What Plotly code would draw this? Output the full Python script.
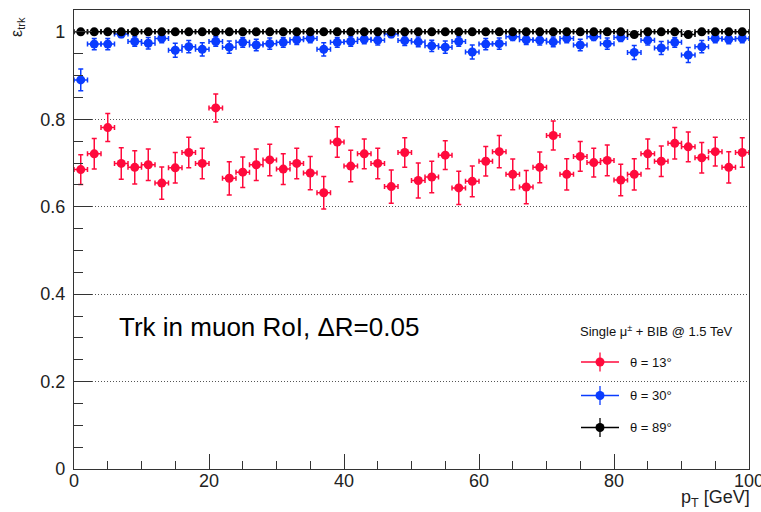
import plotly.graph_objects as go

# ---------------- data ----------------
pt = [1, 3, 5, 7, 9, 11, 13, 15, 17, 19, 21, 23, 25, 27, 29, 31, 33, 35, 37, 39,
      41, 43, 45, 47, 49, 51, 53, 55, 57, 59, 61, 63, 65, 67, 69, 71, 73, 75, 77, 79,
      81, 83, 85, 87, 89, 91, 93, 95, 97, 99]
BIN_HALF_WIDTH = 1.0

eff_13 = [0.685, 0.721, 0.781, 0.699, 0.690, 0.696, 0.654, 0.689, 0.724, 0.699,
          0.826, 0.665, 0.679, 0.696, 0.707, 0.686, 0.699, 0.677, 0.632, 0.748,
          0.693, 0.721, 0.699, 0.646, 0.724, 0.660, 0.668, 0.718, 0.643, 0.658,
          0.704, 0.726, 0.674, 0.645, 0.690, 0.763, 0.674, 0.715, 0.701, 0.706,
          0.661, 0.674, 0.721, 0.704, 0.745, 0.737, 0.712, 0.726, 0.690, 0.724]
err_13 = [0.034, 0.035, 0.032, 0.036, 0.038, 0.036, 0.037, 0.035, 0.035, 0.035,
          0.032, 0.038, 0.035, 0.036, 0.036, 0.035, 0.035, 0.038, 0.037, 0.035,
          0.036, 0.034, 0.035, 0.038, 0.034, 0.040, 0.036, 0.033, 0.038, 0.035,
          0.034, 0.037, 0.035, 0.038, 0.035, 0.033, 0.036, 0.034, 0.033, 0.035,
          0.036, 0.036, 0.034, 0.035, 0.036, 0.034, 0.035, 0.033, 0.036, 0.034]

eff_30 = [0.890, 0.972, 0.972, 0.995, 0.978, 0.974, 0.985, 0.958, 0.966, 0.960,
          0.978, 0.965, 0.976, 0.970, 0.973, 0.976, 0.982, 0.985, 0.960, 0.976,
          0.978, 0.983, 0.981, 0.995, 0.980, 0.977, 0.968, 0.965, 0.978, 0.954,
          0.972, 0.973, 0.989, 0.982, 0.981, 0.977, 0.985, 0.970, 0.989, 0.973,
          0.987, 0.953, 0.981, 0.963, 0.976, 0.947, 0.966, 0.985, 0.983, 0.985]
err_30 = [0.025, 0.013, 0.013, 0.008, 0.011, 0.013, 0.010, 0.016, 0.014, 0.015,
          0.011, 0.014, 0.011, 0.013, 0.013, 0.011, 0.011, 0.010, 0.015, 0.011,
          0.011, 0.010, 0.011, 0.008, 0.011, 0.011, 0.013, 0.014, 0.011, 0.016,
          0.013, 0.013, 0.009, 0.011, 0.011, 0.011, 0.010, 0.013, 0.009, 0.013,
          0.009, 0.016, 0.011, 0.015, 0.011, 0.017, 0.014, 0.010, 0.010, 0.010]

eff_89 = [1.000, 1.000, 1.000, 1.000, 1.000, 1.000, 1.000, 1.000, 1.000, 1.000,
          1.000, 1.000, 1.000, 1.000, 1.000, 1.000, 1.000, 1.000, 1.000, 1.000,
          1.000, 1.000, 1.000, 1.000, 1.000, 1.000, 1.000, 1.000, 1.000, 1.000,
          1.000, 1.000, 1.000, 1.000, 1.000, 1.000, 1.000, 1.000, 1.000, 1.000,
          1.000, 0.994, 1.000, 1.000, 1.000, 0.994, 1.000, 1.000, 1.000, 1.000]
err_89 = [0.002, 0.002, 0.002, 0.002, 0.002, 0.002, 0.002, 0.002, 0.002, 0.002,
          0.002, 0.002, 0.002, 0.002, 0.002, 0.002, 0.002, 0.002, 0.002, 0.002,
          0.002, 0.002, 0.002, 0.002, 0.002, 0.002, 0.002, 0.002, 0.002, 0.002,
          0.002, 0.002, 0.002, 0.002, 0.002, 0.002, 0.002, 0.002, 0.002, 0.002,
          0.002, 0.004, 0.002, 0.002, 0.002, 0.004, 0.002, 0.002, 0.002, 0.002]

series_names = ["θ = 13°", "θ = 30°", "θ = 89°"]
series_colors = ["#ff0a3c", "#0a3cff", "#000000"]

x_ticks = [0, 20, 40, 60, 80, 100]
y_ticks = [0, 0.2, 0.4, 0.6, 0.8, 1]

# ---------------- geometry (pixels) ----------------
W, H = 761, 512
L, R, T, B = 74, 12, 10, 43
PW, PH = W - L - R, H - T - B


def px(x):
    return (x - L) / PW


def py(y):
    return (H - B - y) / PH


FONT = "Liberation Sans, Arial, Helvetica, sans-serif"
AXC = "#333333"

fig = go.Figure()

for vals, errs, col, name in [(eff_13, err_13, series_colors[0], series_names[0]),
                              (eff_30, err_30, series_colors[1], series_names[1])]:
    fig.add_trace(go.Scatter(
        x=pt, y=vals, mode="markers", name=name,
        marker=dict(size=9, color=col),
        error_y=dict(type="data", array=errs, color=col, thickness=1.5, width=2.5),
        error_x=dict(type="constant", value=BIN_HALF_WIDTH, color=col, thickness=1.5, width=2.5),
    ))

fig.add_trace(go.Scatter(
    x=pt, y=eff_89, mode="markers", name=series_names[2],
    marker=dict(size=9, color=series_colors[2]),
    error_y=dict(type="data", symmetric=False, array=[0] * len(err_89), arrayminus=err_89,
                 color=series_colors[2], thickness=1.5, width=2.5),
    error_x=dict(type="constant", value=BIN_HALF_WIDTH, color=series_colors[2], thickness=1.5, width=2.5),
))

# ---------------- legend (drawn on a pixel-space overlay axis) ----------------
leg_x = 600
leg_rows = [362, 395.5, 427.5]
for name, col, yrow in zip(series_names, series_colors, leg_rows):
    fig.add_trace(go.Scatter(
        x=[leg_x], y=[H - yrow], mode="markers", xaxis="x2", yaxis="y2",
        marker=dict(size=9, color=col), hoverinfo="skip",
        error_x=dict(type="constant", value=19, color=col, thickness=1.3, width=0),
        error_y=dict(type="constant", value=9.5, color=col, thickness=1.3, width=0),
    ))
    fig.add_annotation(x=px(628), y=py(yrow), xref="paper", yref="paper",
                       text=name, showarrow=False, xanchor="left", yanchor="middle",
                       font=dict(family=FONT, size=13, color="#111"))

fig.add_annotation(x=px(578), y=py(331), xref="paper", yref="paper",
                   text="Single μ<sup>±</sup> + BIB @ 1.5 TeV", showarrow=False,
                   xanchor="left", yanchor="middle",
                   font=dict(family=FONT, size=13, color="#111"))

fig.add_annotation(x=px(117), y=py(327), xref="paper", yref="paper",
                   text="Trk in muon RoI, ΔR=0.05", showarrow=False,
                   xanchor="left", yanchor="middle",
                   font=dict(family=FONT, size=26, color="#000"))

fig.add_annotation(x=px(17), y=py(15), xref="paper", yref="paper",
                   text="ε<sub>trk</sub>", showarrow=False, textangle=-90,
                   xanchor="center", yanchor="top",
                   font=dict(family=FONT, size=16, color="#222"))

fig.add_annotation(x=px(752), y=py(498), xref="paper", yref="paper",
                   text="p<sub>T</sub> [GeV]", showarrow=False,
                   xanchor="right", yanchor="middle",
                   font=dict(family=FONT, size=18, color="#222"))

fig.update_layout(
    width=W, height=H,
    margin=dict(l=L, r=R, t=T, b=B, autoexpand=False),
    paper_bgcolor="white", plot_bgcolor="white",
    showlegend=False,
    font=dict(family=FONT, size=18, color="#222"),
    xaxis=dict(range=[0, 100], tickvals=x_ticks, ticks="inside", ticklen=15,
               tickwidth=1, tickcolor=AXC, automargin=False,
               minor=dict(dtick=5, tick0=0, ticks="inside", ticklen=8, tickcolor=AXC, showgrid=False),
               showline=True, linecolor=AXC, linewidth=1.2, mirror=True,
               showgrid=False, zeroline=False, tickfont=dict(size=18, color="#222"),
               ticklabelstandoff=-5, ticklabeloverflow="allow"),
    yaxis=dict(range=[0, 1.05], tickvals=y_ticks, ticks="inside", ticklen=18,
               tickwidth=1, tickcolor=AXC, automargin=False,
               minor=dict(dtick=0.05, tick0=0, ticks="inside", ticklen=9, tickcolor=AXC, showgrid=False),
               showline=True, linecolor=AXC, linewidth=1.2, mirror=True,
               showgrid=True, gridcolor="#555555", gridwidth=1, griddash="1px,2px",
               zeroline=False, tickfont=dict(size=18, color="#222"),
               ticklabelstandoff=4),
    xaxis2=dict(overlaying="x", range=[L, W - R], visible=False, fixedrange=True),
    yaxis2=dict(overlaying="y", range=[B, H - T], visible=False, fixedrange=True),
)

fig.write_html("out.html")
